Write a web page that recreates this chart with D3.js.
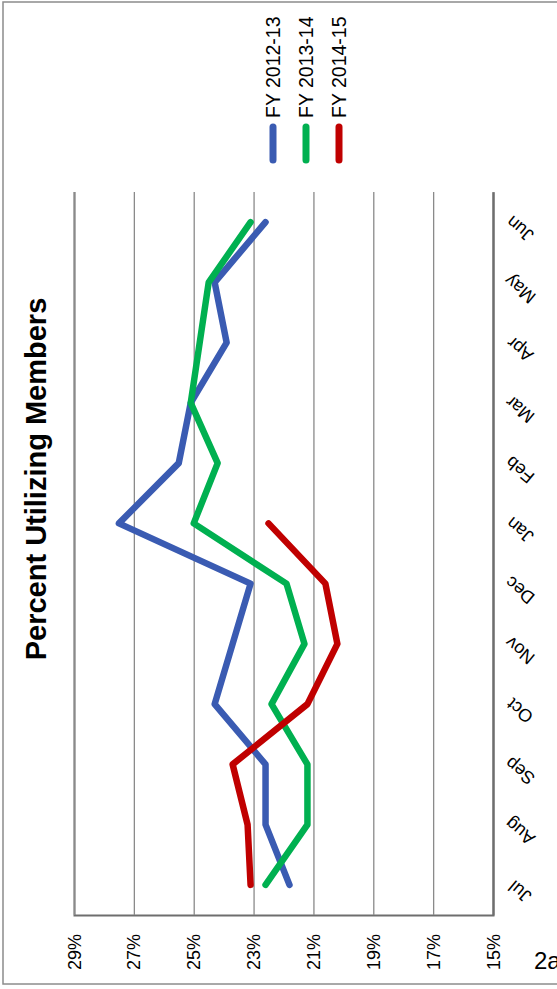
<!DOCTYPE html>
<html>
<head>
<meta charset="utf-8">
<script src="https://cdn.jsdelivr.net/npm/d3@7"></script>
<style>
  html, body { margin: 0; padding: 0; background: #fff; }
  svg { display: block; font-family: "Liberation Sans", Arial, sans-serif; }
</style>
</head>
<body>
<svg id="chart" width="557" height="989"></svg>
<script>
// Monthly share of members using services, by fiscal year (Jul–Jun)
const months = ["Jul", "Aug", "Sep", "Oct", "Nov", "Dec", "Jan", "Feb", "Mar", "Apr", "May", "Jun"];
const fy1213 = [21.8, 22.6, 22.6, 24.3, 23.7, 23.1, 27.5, 25.5, 25.1, 23.9, 24.3, 22.6];
const fy1314 = [22.6, 21.2, 21.2, 22.4, 21.3, 21.9, 25.0, 24.2, 25.1, 24.8, 24.5, 23.1];
const fy1415 = [23.1, 23.2, 23.7, 21.2, 20.2, 20.6, 22.5];
const seriesNames = ["FY 2012-13", "FY 2013-14", "FY 2014-15"];
const seriesColors = ["#3A5BB2", "#00B050", "#C00000"];
const pctTicks = [29, 27, 25, 23, 21, 19, 17, 15];

const series = [fy1213, fy1314, fy1415].map((vals, i) => ({
  name: seriesNames[i],
  color: seriesColors[i],
  points: vals.map((v, j) => ({ month: months[j], value: v }))
}));

const svg = d3.select("#chart");

// outer frame
svg.append("rect")
  .attr("x", 3).attr("y", 2)
  .attr("width", 620).attr("height", 982)
  .attr("fill", "#fff")
  .attr("stroke", "#8c8c8c").attr("stroke-width", 1.5);

// plot area (chart laid on its side: months run bottom→top, percent right→left)
const plot = { left: 74, right: 493, top: 192, bottom: 915 };

const x = d3.scaleLinear().domain([15, 29]).range([plot.right, plot.left]);
const y = d3.scalePoint().domain(months).range([plot.bottom, plot.top]).padding(0.5);

// value axis with gridlines
const xAxis = svg.append("g")
  .attr("transform", `translate(0,${plot.bottom})`)
  .call(d3.axisBottom(x)
    .tickValues(pctTicks)
    .tickSize(-(plot.bottom - plot.top))
    .tickFormat(d => d + "%"));
xAxis.select(".domain").attr("stroke", "#6e6e6e").attr("stroke-width", 2);
xAxis.selectAll(".tick line").attr("stroke", "#8a8a8a").attr("stroke-width", 1.3);
xAxis.selectAll(".tick text")
  .attr("font-size", 18)
  .attr("fill", "#000")
  .attr("text-anchor", "middle")
  .attr("dominant-baseline", "central")
  .attr("x", 0).attr("y", 0).attr("dy", null)
  .attr("transform", "translate(0,37) rotate(-90)");

// category axis
const yAxis = svg.append("g")
  .attr("transform", `translate(${plot.right},0)`)
  .call(d3.axisRight(y).tickSize(0).tickPadding(0));
yAxis.select(".domain").attr("stroke", "#6e6e6e").attr("stroke-width", 2);
yAxis.selectAll(".tick text")
  .attr("font-size", 18)
  .attr("fill", "#000")
  .attr("text-anchor", "middle")
  .attr("dominant-baseline", "central")
  .attr("x", 0).attr("dy", null)
  .attr("transform", "translate(27,6) rotate(220)");

// series lines
const line = d3.line()
  .x(d => x(d.value))
  .y(d => y(d.month));

svg.append("g").selectAll("path")
  .data(series)
  .join("path")
  .attr("d", d => line(d.points))
  .attr("fill", "none")
  .attr("stroke", d => d.color)
  .attr("stroke-width", 6.5)
  .attr("stroke-linecap", "round")
  .attr("stroke-linejoin", "round");

// legend
const legend = svg.append("g").selectAll("g")
  .data(series)
  .join("g")
  .attr("transform", (d, i) => `translate(${273 + i * 33},0)`);
legend.append("line")
  .attr("x1", 0).attr("x2", 0)
  .attr("y1", 127).attr("y2", 160)
  .attr("stroke", d => d.color)
  .attr("stroke-width", 7)
  .attr("stroke-linecap", "round");
legend.append("text")
  .attr("transform", "translate(0,118) rotate(-90)")
  .attr("dominant-baseline", "central")
  .attr("font-size", 19.5)
  .attr("fill", "#000")
  .text(d => d.name);

// title
svg.append("text")
  .attr("transform", "translate(36,479) rotate(-90)")
  .attr("text-anchor", "middle")
  .attr("dominant-baseline", "central")
  .attr("font-size", 29)
  .attr("font-weight", "bold")
  .attr("fill", "#000")
  .text("Percent Utilizing Members");

// panel tag
svg.append("text")
  .attr("x", 534).attr("y", 969)
  .attr("font-size", 24)
  .attr("fill", "#000")
  .text("2a");
</script>
</body>
</html>
